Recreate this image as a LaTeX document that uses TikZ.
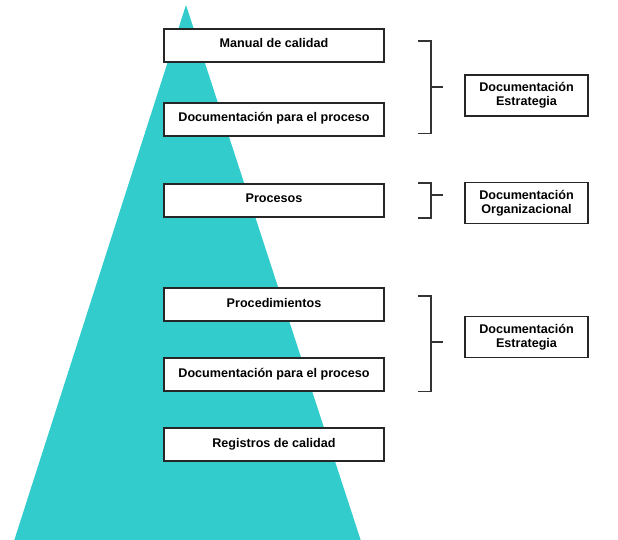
\documentclass[tikz,border=0pt]{standalone}
\usepackage{fontspec}
\setmainfont{Liberation Sans}
\definecolor{teal1}{HTML}{33CCCC}
\begin{document}
\begin{tikzpicture}[x=1pt,y=-1pt,
  lbox/.style={draw=black!85,line width=1.3pt,fill=white,minimum width=220pt,minimum height=33pt,inner sep=0pt,font=\fontsize{12.6}{14}\selectfont\bfseries,text height=9pt,text depth=4pt},
  rbox/.style={draw=black!85,line width=1.3pt,fill=white,minimum width=123pt,minimum height=41pt,inner sep=0pt,align=center,font=\fontsize{12.6}{14}\selectfont\bfseries},
  brk/.style={draw=black!80,line width=1.3pt}]
\useasboundingbox (0,0) rectangle (618,540);
\fill[teal1] (186,5) -- (361,541) -- (14,541) -- cycle;
\node[lbox] (b1) at (274,45.5) {Manual de calidad};
\node[lbox] (b2) at (274,119.5) {Documentación para el proceso};
\node[lbox] (b3) at (274,200.5) {Procesos};
\node[lbox] (b4) at (274,304.5) {Procedimientos};
\node[lbox] (b5) at (274,374.5) {Documentación para el proceso};
\node[lbox] (b6) at (274,444.5) {Registros de calidad};
\node[rbox] (r1) at (526.5,95.5) {Documentación\\Estrategia};
\node[rbox] (r2) at (526.5,203) {Documentación\\Organizacional};
\node[rbox] (r3) at (526.5,337) {Documentación\\Estrategia};
\draw[brk] (418,41) -- (431,41) -- (431,133.5) -- (418,133.5);
\draw[brk] (431,87) -- (443,87);
\draw[brk] (418,183) -- (431,183) -- (431,218) -- (418,218);
\draw[brk] (431,195) -- (443,195);
\draw[brk] (418,296) -- (431,296) -- (431,391.5) -- (418,391.5);
\draw[brk] (431,342) -- (443,342);
\end{tikzpicture}
\end{document}
